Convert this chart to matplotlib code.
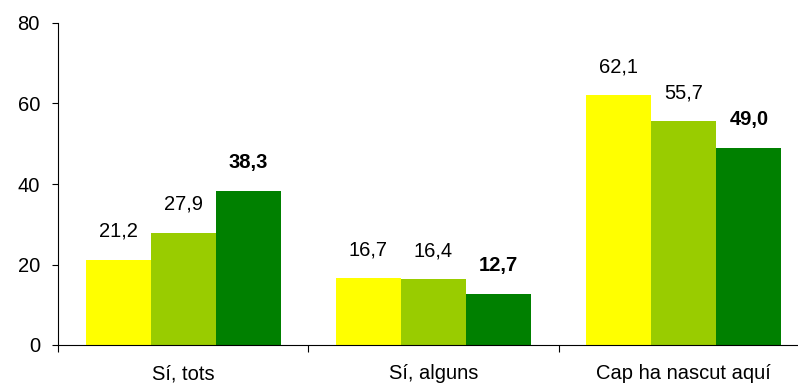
import matplotlib
matplotlib.use("Agg")
import matplotlib.pyplot as plt
import numpy as np

categories = ["Sí, tots", "Sí, alguns", "Cap ha nascut aquí"]
series_a = [21.2, 16.7, 62.1]
series_b = [27.9, 16.4, 55.7]
series_c = [38.3, 12.7, 49.0]
colors = ["#FFFF00", "#99CC00", "#008000"]
bold_flags = [False, False, True]
yticks = [0, 20, 40, 60, 80]

plt.rcParams['font.family'] = ['Liberation Sans', 'DejaVu Sans']

W, H = 798, 387
fig = plt.figure(figsize=(W / 100, H / 100), dpi=100)
left, right, top, bottom = 58, 809, 23, 345
ax = fig.add_axes([left / W, (H - bottom) / H, (right - left) / W, (bottom - top) / H])

x = np.arange(len(categories))
width = 0.26
all_series = [series_a, series_b, series_c]
for i, (vals, col, b) in enumerate(zip(all_series, colors, bold_flags)):
    pos = x + (i - 1) * width
    ax.bar(pos, vals, width=width, color=col, edgecolor='none')
    for px, v in zip(pos, vals):
        ax.annotate(f"{v:.1f}".replace('.', ','), (px, v), xytext=(0, 13.5),
                    textcoords='offset points', ha='center', va='bottom',
                    fontsize=14.5, fontweight='bold' if b else 'normal', color='black')

ax.set_xlim(-0.5, 2.5)
ax.set_ylim(0, 80)
ax.set_yticks(yticks)
ax.set_yticklabels([str(t) for t in yticks])
ax.tick_params(axis='y', direction='out', length=4, width=0.8, pad=9, labelsize=14.5)

ax.set_xticks(x)
ax.set_xticklabels(categories)
ax.tick_params(axis='x', which='major', length=0, pad=14, labelsize=14.5)
ax.set_xticks([-0.5, 0.5, 1.5, 2.5], minor=True)
ax.tick_params(axis='x', which='minor', direction='out', length=5, width=0.8)

for s in ['top', 'right']:
    ax.spines[s].set_visible(False)
for s in ['left', 'bottom']:
    ax.spines[s].set_linewidth(0.8)
    ax.spines[s].set_color('black')

fig.savefig("out.png", dpi=100)
